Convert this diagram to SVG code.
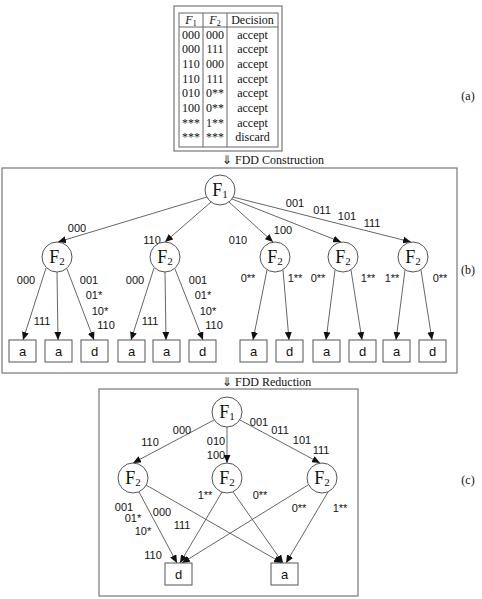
<svg xmlns="http://www.w3.org/2000/svg" width="482" height="599" viewBox="0 0 482 599">
<style>
.frame{fill:none;stroke:#777;stroke-width:1.2}
.tb{fill:none;stroke:#666;stroke-width:1}
.serif{font-family:"Liberation Serif","Times New Roman",serif;fill:#111}
.t{font-size:12px;text-anchor:middle}
.lbl{font-family:"Liberation Sans",Arial,sans-serif;font-size:11px;fill:#111;text-anchor:middle}
.node circle{fill:#fff;stroke:#555;stroke-width:1}
.node text{font-family:"Liberation Serif","Times New Roman",serif;font-size:18px;fill:#111;text-anchor:middle}
.leaf rect{fill:#fff;stroke:#555;stroke-width:1}
.leaf text{font-family:"Liberation Sans",Arial,sans-serif;font-size:13px;fill:#111;text-anchor:middle}
.edges line{stroke:#555;stroke-width:0.9;marker-end:url(#ah)}
</style>
<defs>
<marker id="ah" markerWidth="8" markerHeight="7" refX="8" refY="3.5" orient="auto" markerUnits="userSpaceOnUse">
<path d="M0,0 L8,3.5 L0,7 z" fill="#111"/>
</marker>
</defs>
<rect width="482" height="599" fill="#fff"/>

<!-- (a) table -->
<g id="table">
<rect class="frame" x="174" y="6" width="108" height="145"/>
<rect class="tb" x="179" y="13" width="99" height="134"/>
<line class="tb" x1="179" y1="27" x2="278" y2="27"/>
<line class="tb" x1="203" y1="13" x2="203" y2="147"/>
<line class="tb" x1="227" y1="13" x2="227" y2="147"/>
<g class="serif t">
<text x="191" y="24" font-style="italic">F<tspan font-size="8" font-style="normal" dy="2">1</tspan></text>
<text x="215" y="24" font-style="italic">F<tspan font-size="8" font-style="normal" dy="2">2</tspan></text>
<text x="252.5" y="24">Decision</text>
<text x="191" y="38.5">000</text><text x="215" y="38.5">000</text><text x="252.5" y="38.5">accept</text>
<text x="191" y="53.2">000</text><text x="215" y="53.2">111</text><text x="252.5" y="53.2">accept</text>
<text x="191" y="67.9">110</text><text x="215" y="67.9">000</text><text x="252.5" y="67.9">accept</text>
<text x="191" y="82.6">110</text><text x="215" y="82.6">111</text><text x="252.5" y="82.6">accept</text>
<text x="191" y="97.3">010</text><text x="215" y="97.3">0**</text><text x="252.5" y="97.3">accept</text>
<text x="191" y="112">100</text><text x="215" y="112">0**</text><text x="252.5" y="112">accept</text>
<text x="191" y="126.7">***</text><text x="215" y="126.7">1**</text><text x="252.5" y="126.7">accept</text>
<text x="191" y="141.4">***</text><text x="215" y="141.4">***</text><text x="252.5" y="141.4">discard</text>
</g>
</g>
<text class="serif" x="468" y="100" font-size="12" text-anchor="middle">(a)</text>
<text class="serif" x="222" y="164" font-size="12">⇓ FDD Construction</text>

<!-- (b) panel -->
<rect class="frame" x="2" y="168" width="455" height="205"/>
<text class="serif" x="468" y="274" font-size="12" text-anchor="middle">(b)</text>

<g id="b-edges" class="edges">
<line x1="207" y1="197" x2="58" y2="242"/>
<line x1="211" y1="202" x2="165" y2="242"/>
<line x1="229" y1="202" x2="273" y2="242"/>
<line x1="232" y1="199" x2="341" y2="242"/>
<line x1="233" y1="197" x2="411" y2="242"/>
<line x1="46" y1="268" x2="23" y2="340"/>
<line x1="57" y1="272" x2="58" y2="340"/>
<line x1="67" y1="269" x2="94" y2="340"/>
<line x1="154" y1="268" x2="131" y2="340"/>
<line x1="165" y1="272" x2="166" y2="340"/>
<line x1="175" y1="269" x2="203" y2="340"/>
<line x1="267" y1="270" x2="253" y2="340"/>
<line x1="283" y1="270" x2="289" y2="340"/>
<line x1="335" y1="270" x2="326" y2="340"/>
<line x1="351" y1="270" x2="362" y2="340"/>
<line x1="405" y1="270" x2="396" y2="340"/>
<line x1="421" y1="270" x2="432" y2="340"/>
</g>
<g id="b-labels" class="lbl">
<text x="77" y="232">000</text>
<text x="152" y="244">110</text>
<text x="238" y="244">010</text>
<text x="283" y="234">100</text>
<text x="295" y="207">001</text>
<text x="322" y="214">011</text>
<text x="347" y="220">101</text>
<text x="372" y="227">111</text>
<text x="26" y="284">000</text>
<text x="42" y="325">111</text>
<text x="89" y="284">001</text>
<text x="94" y="299">01*</text>
<text x="100" y="315">10*</text>
<text x="106" y="329">110</text>
<text x="135" y="284">000</text>
<text x="150" y="325">111</text>
<text x="198" y="284">001</text>
<text x="203" y="299">01*</text>
<text x="208" y="315">10*</text>
<text x="214" y="329">110</text>
<text x="248" y="282">0**</text>
<text x="295" y="282">1**</text>
<text x="318" y="282">0**</text>
<text x="368" y="282">1**</text>
<text x="392" y="282">1**</text>
<text x="440" y="282">0**</text>
</g>

<g id="b-F1" class="node"><circle cx="220" cy="190" r="15"/><text x="220" y="196">F<tspan font-size="11" dy="2">1</tspan></text></g>
<g id="b-F2a" class="node"><circle cx="57" cy="257" r="15"/><text x="57" y="263">F<tspan font-size="11" dy="2">2</tspan></text></g>
<g id="b-F2b" class="node"><circle cx="165" cy="257" r="15"/><text x="165" y="263">F<tspan font-size="11" dy="2">2</tspan></text></g>
<g id="b-F2c" class="node"><circle cx="275" cy="257" r="15"/><text x="275" y="263">F<tspan font-size="11" dy="2">2</tspan></text></g>
<g id="b-F2d" class="node"><circle cx="343" cy="257" r="15"/><text x="343" y="263">F<tspan font-size="11" dy="2">2</tspan></text></g>
<g id="b-F2e" class="node"><circle cx="413" cy="257" r="15"/><text x="413" y="263">F<tspan font-size="11" dy="2">2</tspan></text></g>

<g id="b-L1" class="leaf"><rect x="9" y="340" width="27" height="22"/><text x="22.5" y="356">a</text></g>
<g id="b-L2" class="leaf"><rect x="45" y="340" width="27" height="22"/><text x="58.5" y="356">a</text></g>
<g id="b-L3" class="leaf"><rect x="81" y="340" width="27" height="22"/><text x="94.5" y="356">d</text></g>
<g id="b-L4" class="leaf"><rect x="118" y="340" width="27" height="22"/><text x="131.5" y="356">a</text></g>
<g id="b-L5" class="leaf"><rect x="153" y="340" width="27" height="22"/><text x="166.5" y="356">a</text></g>
<g id="b-L6" class="leaf"><rect x="189" y="340" width="27" height="22"/><text x="202.5" y="356">d</text></g>
<g id="b-L7" class="leaf"><rect x="240" y="340" width="27" height="22"/><text x="253.5" y="356">a</text></g>
<g id="b-L8" class="leaf"><rect x="276" y="340" width="27" height="22"/><text x="289.5" y="356">d</text></g>
<g id="b-L9" class="leaf"><rect x="313" y="340" width="27" height="22"/><text x="326.5" y="356">a</text></g>
<g id="b-L10" class="leaf"><rect x="349" y="340" width="27" height="22"/><text x="362.5" y="356">d</text></g>
<g id="b-L11" class="leaf"><rect x="383" y="340" width="27" height="22"/><text x="396.5" y="356">a</text></g>
<g id="b-L12" class="leaf"><rect x="419" y="340" width="27" height="22"/><text x="432.5" y="356">d</text></g>

<text class="serif" x="222" y="386" font-size="12">⇓ FDD Reduction</text>

<!-- (c) panel -->
<rect class="frame" x="99" y="389" width="259" height="207"/>
<text class="serif" x="468" y="484" font-size="12" text-anchor="middle">(c)</text>

<g id="c-edges" class="edges">
<line x1="214" y1="420" x2="133" y2="463"/>
<line x1="227" y1="427" x2="227" y2="463"/>
<line x1="240" y1="420" x2="320" y2="463"/>
<line x1="139" y1="492" x2="177" y2="563"/>
<line x1="146" y1="485" x2="282" y2="563"/>
<line x1="222" y1="492" x2="180" y2="563"/>
<line x1="233" y1="492" x2="283" y2="563"/>
<line x1="308" y1="485" x2="182" y2="563"/>
<line x1="328" y1="492" x2="286" y2="563"/>
</g>
<g id="c-labels" class="lbl">
<text x="182" y="434">000</text>
<text x="150" y="446">110</text>
<text x="216" y="445">010</text>
<text x="216" y="459">100</text>
<text x="259" y="426">001</text>
<text x="280" y="434">011</text>
<text x="302" y="444">101</text>
<text x="321" y="454">111</text>
<text x="124" y="511">001</text>
<text x="133" y="522">01*</text>
<text x="143" y="535">10*</text>
<text x="153" y="559">110</text>
<text x="162" y="516">000</text>
<text x="182" y="529">111</text>
<text x="205" y="499">1**</text>
<text x="260" y="499">0**</text>
<text x="299" y="512">0**</text>
<text x="340" y="512">1**</text>
</g>

<g id="c-F1" class="node"><circle cx="227" cy="412" r="15"/><text x="227" y="418">F<tspan font-size="11" dy="2">1</tspan></text></g>
<g id="c-F2a" class="node"><circle cx="133" cy="478" r="15"/><text x="133" y="484">F<tspan font-size="11" dy="2">2</tspan></text></g>
<g id="c-F2b" class="node"><circle cx="227" cy="478" r="15"/><text x="227" y="484">F<tspan font-size="11" dy="2">2</tspan></text></g>
<g id="c-F2c" class="node"><circle cx="322" cy="478" r="15"/><text x="322" y="484">F<tspan font-size="11" dy="2">2</tspan></text></g>

<g id="c-Ld" class="leaf"><rect x="165" y="563" width="27" height="22"/><text x="178.5" y="579">d</text></g>
<g id="c-La" class="leaf"><rect x="271" y="563" width="27" height="22"/><text x="284.5" y="579">a</text></g>
</svg>
